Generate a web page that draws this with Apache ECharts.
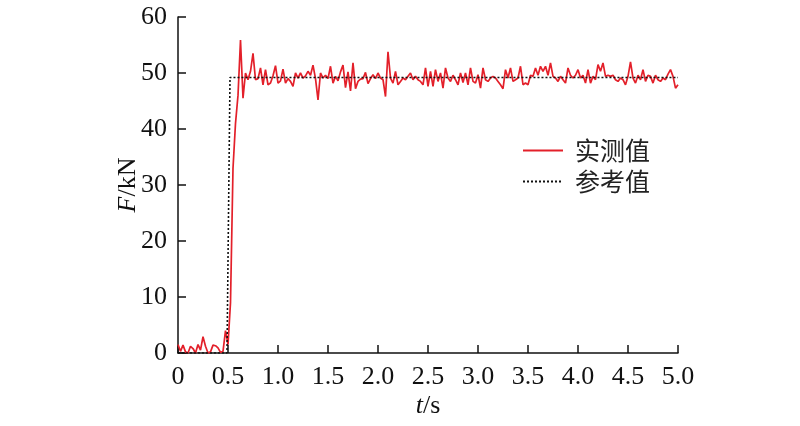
<!DOCTYPE html>
<html>
<head>
<meta charset="utf-8">
<script src="https://cdn.jsdelivr.net/npm/echarts@6/dist/echarts.min.js"></script>
<style>html,body{margin:0;padding:0;background:#fff;}#c{width:800px;height:426px;}</style>
</head>
<body>
<div id="c"></div>
<script>
// sample spacing of the measured signal (s)
const sampleStep = 0.025;
// measured force (kN), one value per sample from t=0 to t=5.0
const measured = [
  1.5, 0.3, 1.4, 0.2, 0, 1.2, 0.8, 0, 1.5, 0.5,
  2.9, 1.2, 0, 0.2, 1.4, 1.3, 0.9, 0.1, 0.3, 4.0,
  1.5, 9, 33, 41, 46, 55.9, 45.5, 50.0, 48.8, 50.3,
  53.5, 48.8, 49.0, 50.9, 47.9, 50.6, 47.9, 48.2, 49.5, 51.3,
  48.2, 48.6, 50.7, 48.2, 49.0, 48.5, 47.6, 50.0, 49.1, 50.0,
  49.1, 49.5, 50.3, 49.6, 51.4, 49.0, 45.2, 50.0, 49.1, 49.6,
  49.0, 51.2, 48.2, 49.4, 48.6, 50.2, 51.4, 47.4, 50.2, 46.8,
  51.8, 47.2, 48.5, 48.9, 49.0, 50.1, 48.1, 49.0, 49.7, 49.0,
  50.0, 49.1, 48.8, 45.8, 53.8, 49.1, 48.2, 50.3, 47.9, 48.5,
  49.1, 48.8, 49.4, 50.0, 48.8, 49.4, 48.8, 48.5, 47.9, 50.9,
  47.6, 50.3, 47.6, 50.6, 48.5, 50.0, 47.3, 50.9, 49.1, 48.5,
  49.6, 48.8, 47.9, 50.0, 48.3, 50.0, 47.9, 50.9, 48.5, 48.2,
  49.7, 47.3, 50.9, 48.8, 48.5, 49.1, 49.4, 49.1, 48.5, 47.9,
  47.2, 50.6, 49.1, 50.9, 48.5, 48.8, 49.1, 51.2, 47.9, 48.2,
  47.9, 49.6, 49.4, 50.9, 49.6, 51.2, 50.3, 51.2, 49.6, 51.8,
  49.4, 49.1, 48.5, 49.4, 48.8, 48.2, 50.9, 49.6, 49.1, 49.6,
  50.6, 49.1, 49.6, 48.2, 50.6, 48.2, 49.4, 48.8, 51.5, 50.3,
  51.8, 49.4, 49.6, 49.4, 49.6, 48.8, 48.5, 49.1, 48.8, 47.9,
  49.4, 52.0, 49.1, 48.2, 49.6, 48.8, 50.6, 48.5, 49.6, 49.4,
  48.2, 49.6, 48.8, 48.5, 49.1, 48.8, 49.8, 50.6, 49.4, 47.3,
  47.9
];
// reference (target) force: breakpoints
const refTimes = [0, 0.49, 0.52, 5.0];
const refValues = [0, 0, 49.2, 49.2];
const xTicks = ['0', '0.5', '1.0', '1.5', '2.0', '2.5', '3.0', '3.5', '4.0', '4.5', '5.0'];
const seriesNames = ['实测值', '参考值'];

const measuredData = measured.map((v, i) => [+(i * sampleStep).toFixed(3), v]);
const refData = refTimes.map((t, i) => [t, refValues[i]]);

const serif = '"Liberation Serif", "Times New Roman", serif';
const chart = echarts.init(document.getElementById('c'), null, {renderer: 'canvas'});
chart.setOption({
  animation: false,
  backgroundColor: '#fff',
  grid: {left: 178, right: 122, top: 17, bottom: 73, containLabel: false},
  legend: {
    data: seriesNames,
    orient: 'vertical',
    left: 517,
    top: 133,
    itemWidth: 40,
    itemHeight: 10,
    itemGap: 6,
    itemStyle: {opacity: 0},
    textStyle: {fontFamily: '"Noto Sans CJK SC", sans-serif', fontSize: 25, color: '#222', padding: [0, 0, 0, 7]}
  },
  xAxis: {
    type: 'value', min: 0, max: 5, interval: 0.5,
    name: '{i|t}/s', nameLocation: 'middle', nameGap: 40, nameMoveOverlap: false,
    nameTextStyle: {fontFamily: serif, fontSize: 26, color: '#111',
      rich: {i: {fontFamily: serif, fontStyle: 'italic', fontSize: 26, color: '#111'}}},
    axisLine: {lineStyle: {color: '#111', width: 1.5}},
    axisTick: {inside: true, length: 8, lineStyle: {color: '#111', width: 1.5}},
    axisLabel: {fontFamily: serif, fontSize: 26, color: '#111', margin: 11,
      formatter: v => xTicks[Math.round(v / 0.5)]},
    splitLine: {show: false}
  },
  yAxis: {
    type: 'value', min: 0, max: 60, interval: 10,
    name: '{i|F}/kN', nameLocation: 'middle', nameGap: 37, nameRotate: 90, nameMoveOverlap: false,
    nameTextStyle: {fontFamily: serif, fontSize: 26, color: '#111',
      rich: {i: {fontFamily: serif, fontStyle: 'italic', fontSize: 26, color: '#111'}}},
    axisLine: {show: true, lineStyle: {color: '#111', width: 1.5}},
    axisTick: {show: true, inside: true, length: 8, lineStyle: {color: '#111', width: 1.5}},
    axisLabel: {fontFamily: serif, fontSize: 26, color: '#111', margin: 11},
    splitLine: {show: false}
  },
  series: [
    {
      name: seriesNames[0], type: 'line', data: measuredData, symbol: 'none',
      lineStyle: {color: '#e3202a', width: 1.7}, itemStyle: {color: '#e3202a'}, z: 2
    },
    {
      name: seriesNames[1], type: 'line', data: refData, symbol: 'none',
      lineStyle: {color: '#111', width: 1.6, type: [2, 2]}, itemStyle: {color: '#111'}, z: 3
    }
  ]
});
</script>
</body>
</html>
